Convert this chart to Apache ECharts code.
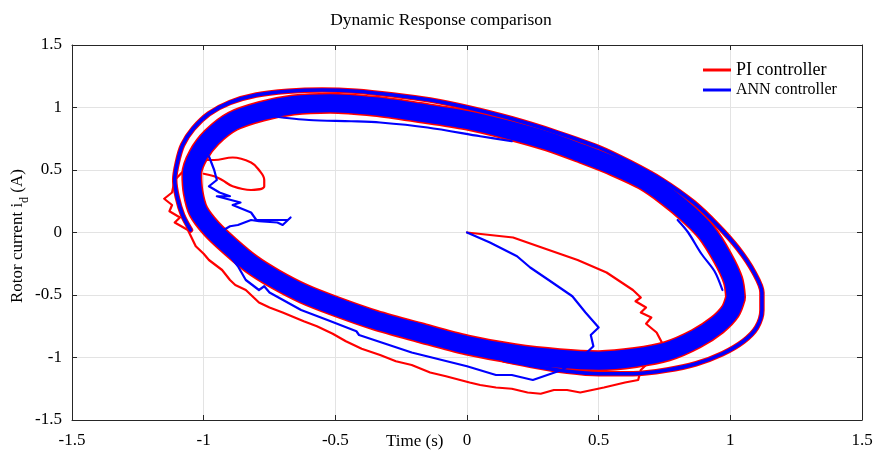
<!DOCTYPE html>
<html>
<head>
<meta charset="utf-8">
<script src="https://cdn.jsdelivr.net/npm/echarts@6/dist/echarts.min.js"></script>
<style>html,body{margin:0;padding:0;background:#fff}#c{width:882px;height:452px}</style>
</head>
<body>
<div id="c"></div>
<script>
// ---- data ----
var xTicks = [-1.5, -1, -0.5, 0, 0.5, 1, 1.5];
var yTicks = [-1.5, -1, -0.5, 0, 0.5, 1, 1.5];
var seriesNames = ['PI controller', 'ANN controller'];

// centre line of the dense steady-state orbit band
var bandCenter = [
  [1.02,-0.52],[1.01,-0.38],[0.97,-0.2],[0.91,0.0],[0.84,0.15],[0.76,0.29],[0.67,0.42],
  [0.56,0.53],[0.44,0.63],[0.31,0.73],[0.16,0.82],[0,0.9],[-0.18,0.96],[-0.35,1.01],
  [-0.52,1.035],[-0.66,1.02],[-0.78,0.97],[-0.89,0.89],[-0.97,0.76],[-1.02,0.62],
  [-1.045,0.47],[-1.04,0.32],[-1.02,0.17],[-0.97,0.03],[-0.9,-0.11],[-0.82,-0.25],
  [-0.73,-0.37],[-0.62,-0.49],[-0.5,-0.59],[-0.35,-0.7],[-0.18,-0.8],[0,-0.9],
  [0.18,-0.97],[0.35,-1.01],[0.5,-1.025],[0.64,-1.0],[0.76,-0.95],[0.87,-0.85],
  [0.95,-0.74],[1.0,-0.63],[1.02,-0.52]
];
// outer orbit (separated ring on top/right)
var outerRing = [
  [-1.05,0.02],[-1.08,0.14],[-1.10,0.28],[-1.11,0.42],[-1.10,0.56],[-1.08,0.7],
  [-1.04,0.83],[-0.98,0.95],[-0.9,1.04],[-0.8,1.10],[-0.68,1.13],[-0.55,1.14],
  [-0.42,1.13],[-0.28,1.10],[-0.14,1.06],[0,1.0],[0.17,0.91],[0.34,0.8],[0.5,0.68],
  [0.62,0.56],[0.74,0.42],[0.86,0.24],[0.95,0.06],[1.03,-0.13],[1.09,-0.32],
  [1.12,-0.48],[1.12,-0.62],[1.10,-0.76],[1.05,-0.87],[0.97,-0.97],[0.87,-1.05],
  [0.76,-1.10],[0.63,-1.13],[0.5,-1.13],[0.38,-1.11],[0.26,-1.07],[0.14,-1.02]
];
// inner blue traces
var annInnerTop = [[-0.74,0.93],[-0.6,0.90],[-0.44,0.89],[-0.33,0.88],[-0.15,0.84],[0.05,0.77],[0.17,0.73]];
var annInnerRight = [[0.8,0.1],[0.84,0.0],[0.89,-0.17],[0.94,-0.31],[0.97,-0.46]];
// PI start-up transient
var piTransient = [
  [0,0],[0.175,-0.04],[0.27,-0.11],[0.42,-0.22],[0.53,-0.32],[0.63,-0.46],[0.66,-0.52],
  [0.64,-0.55],[0.68,-0.6],[0.66,-0.64],[0.70,-0.68],[0.68,-0.73],[0.72,-0.8],[0.74,-0.88],
  [0.745,-0.94],[0.70,-1.02],[0.66,-1.1],[0.65,-1.18],[0.6,-1.2],[0.52,-1.24],[0.43,-1.28],
  [0.38,-1.26],[0.33,-1.26],[0.28,-1.29],[0.23,-1.28],[0.17,-1.25],[0.11,-1.24],[0.05,-1.22],
  [0.01,-1.2],[-0.08,-1.15],[-0.14,-1.12],[-0.21,-1.06],[-0.27,-1.03],[-0.33,-0.98],
  [-0.40,-0.93],[-0.46,-0.87],[-0.51,-0.81],[-0.57,-0.75],[-0.62,-0.71],[-0.7,-0.64],
  [-0.75,-0.6],[-0.79,-0.56],[-0.84,-0.46],[-0.88,-0.42],[-0.9,-0.38],[-0.93,-0.3],
  [-0.98,-0.22],[-1.0,-0.17],[-1.03,-0.11],[-1.06,0.02],[-1.11,0.08],[-1.09,0.12],
  [-1.13,0.17],[-1.12,0.22],[-1.15,0.27],[-1.12,0.32],[-1.11,0.42],[-1.05,0.55]
];
var piSmallLoop = [
  [-1.0,0.58],[-0.96,0.58],[-0.89,0.6],[-0.82,0.56],[-0.79,0.5],[-0.77,0.42],[-0.77,0.37],
  [-0.82,0.34],[-0.89,0.37],[-0.93,0.42],[-0.96,0.45],[-1.0,0.47]
];
// ANN start-up transient
var annTransient = [
  [0,0],[0.087,-0.08],[0.19,-0.19],[0.24,-0.28],[0.31,-0.38],[0.4,-0.51],[0.45,-0.64],
  [0.5,-0.76],[0.47,-0.82],[0.48,-0.91],[0.44,-0.99],[0.36,-1.1],[0.25,-1.18],[0.17,-1.14],
  [0.11,-1.14],[0,-1.07],[-0.21,-0.96],[-0.41,-0.82],[-0.42,-0.79],[-0.53,-0.7],[-0.63,-0.62],
  [-0.75,-0.48],[-0.77,-0.43],[-0.79,-0.46],[-0.84,-0.38],[-0.87,-0.27],[-0.91,-0.16],[-0.9,-0.11]
];
var annSpikes = [
  [-0.98,0.61],[-0.96,0.5],[-0.95,0.42],[-0.98,0.37],[-0.94,0.32],[-0.9,0.29],[-0.95,0.29],
  [-0.86,0.24],[-0.89,0.22],[-0.82,0.16],[-0.8,0.1],[-0.72,0.1],[-0.68,0.1],[-0.67,0.12],
  [-0.7,0.06],[-0.72,0.08],[-0.79,0.09],[-0.82,0.1],[-0.87,0.06],[-0.9,0.05],[-0.94,0.0]
];

// ---- chart ----
var RED = '#ff0000', BLUE = '#0000ff';
var FONT = '"Liberation Serif","Times New Roman",serif';
var TXT = '#262626';

function line(name, data, color, width, smooth) {
  return {
    name: name, type: 'line', data: data, xAxisIndex: 0, yAxisIndex: 0,
    showSymbol: false, symbol: 'none', smooth: smooth || false,
    lineStyle: { color: color, width: width, join: 'round', cap: 'round' },
    itemStyle: { color: color }, animation: false, silent: true
  };
}

var chart = echarts.init(document.getElementById('c'), null, { renderer: 'canvas' });
var axisCommon = {
  min: -1.5, max: 1.5, interval: 0.5,
  axisLine: { show: true, onZero: false, lineStyle: { color: TXT, width: 1 } },
  axisTick: { show: true, inside: true, length: 5, lineStyle: { color: TXT } }
};
chart.setOption({
  backgroundColor: '#fff',
  animation: false,
  title: {
    text: 'Dynamic Response comparison', left: 'center', top: 6,
    textStyle: { fontFamily: FONT, fontSize: 17.5, fontWeight: 'normal', color: '#000' }
  },
  legend: {
    orient: 'vertical', left: 698, top: 56, itemGap: 3, itemWidth: 28, itemHeight: 3,
    icon: 'rect', padding: 5,
    data: [
      { name: seriesNames[0], textStyle: { fontSize: 18 } },
      { name: seriesNames[1], textStyle: { fontSize: 16 } }
    ],
    textStyle: { fontFamily: FONT, color: '#000' }
  },
  grid: { left: 72, right: 20, top: 45, bottom: 32, show: false, containLabel: false, outerBoundsMode: 'none' },
  xAxis: [
    Object.assign({ type: 'value', position: 'bottom',
      splitLine: { show: true, lineStyle: { color: '#e3e3e3' } },
      axisLabel: { margin: 12, fontFamily: FONT, fontSize: 17, color: '#000' } }, axisCommon),
    Object.assign({ type: 'value', position: 'top',
      splitLine: { show: false }, axisLabel: { show: false } }, axisCommon)
  ],
  yAxis: [
    Object.assign({ type: 'value', position: 'left',
      splitLine: { show: true, lineStyle: { color: '#e3e3e3' } },
      axisLabel: { margin: 10, fontFamily: FONT, fontSize: 17, color: '#000' }
    }, axisCommon),
    Object.assign({ type: 'value', position: 'right',
      splitLine: { show: false }, axisLabel: { show: false } }, axisCommon)
  ],
  graphic: [{
    type: 'text', left: 386, top: 433,
    style: { text: 'Time (s)', font: '17px ' + FONT, fill: '#000' }
  }, {
    type: 'text', x: 18, y: 236, rotation: Math.PI / 2,
    style: {
      text: 'Rotor current i{s|d} (A)', font: '17px ' + FONT, fill: '#000',
      align: 'center', verticalAlign: 'middle',
      rich: { s: { font: '12px ' + FONT, fill: '#000', verticalAlign: 'bottom', lineHeight: 26 } }
    }
  }],
  series: [
    line(seriesNames[0], bandCenter, RED, 21, 0.3),
    line(seriesNames[0], outerRing, RED, 5.5, 0.3),
    line(seriesNames[0], piTransient, RED, 2.2),
    line(seriesNames[0], piSmallLoop, RED, 2.2, 0.4),
    line(seriesNames[1], bandCenter, BLUE, 18, 0.3),
    line(seriesNames[1], outerRing, BLUE, 3.5, 0.3),
    line(seriesNames[1], annInnerTop, BLUE, 2.2, 0.3),
    line(seriesNames[1], annInnerRight, BLUE, 2.2, 0.3),
    line(seriesNames[1], annTransient, BLUE, 2.2),
    line(seriesNames[1], annSpikes, BLUE, 2.2)
  ]
});
</script>
</body>
</html>
